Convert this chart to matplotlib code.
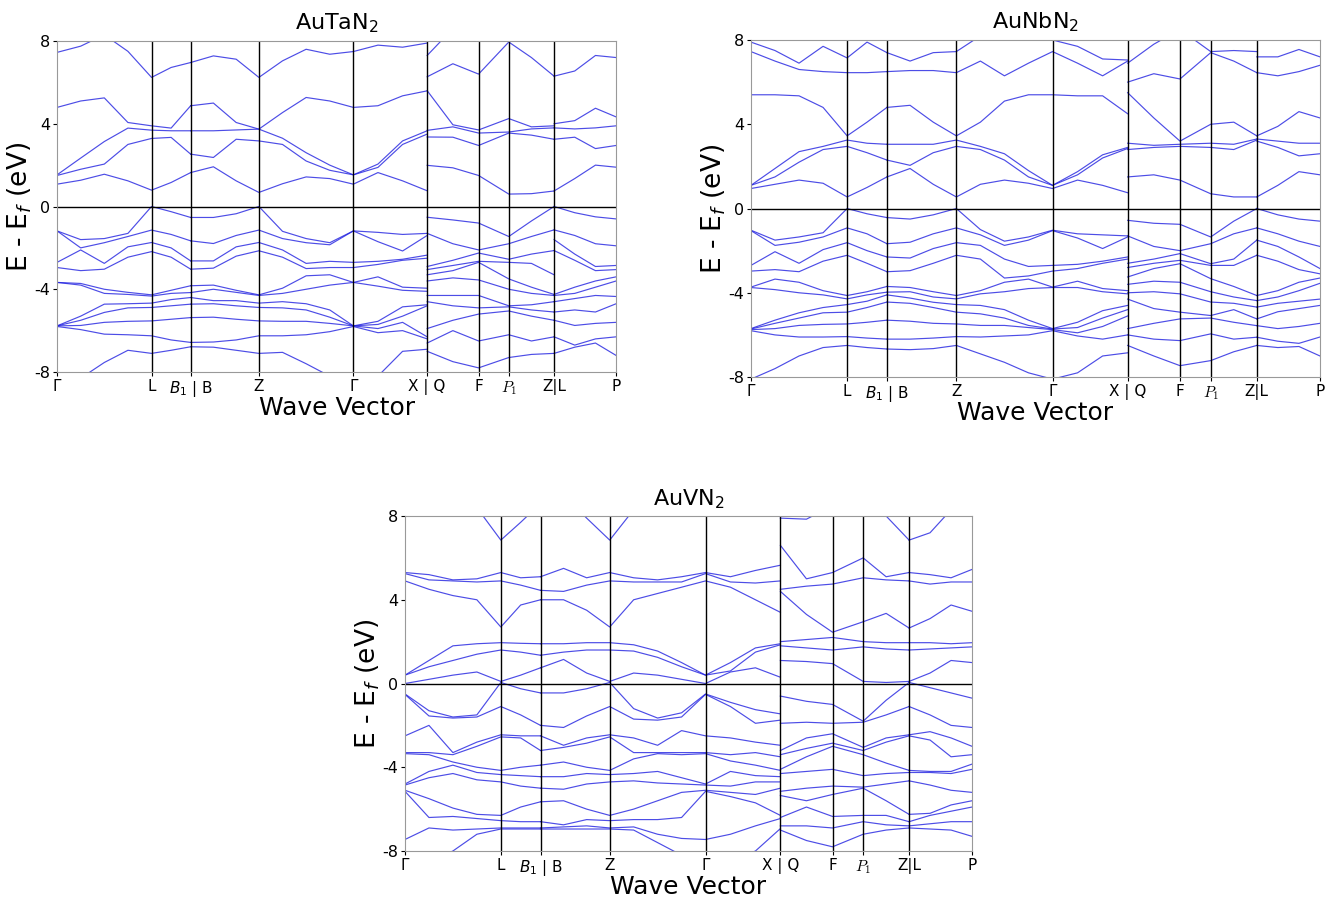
import numpy as np
import matplotlib.pyplot as plt

plt.rcParams['axes.unicode_minus'] = False
plt.rcParams['font.family'] = ['DejaVu Sans']

# high-symmetry points along the path (fraction of path length)
kpath = [0.0, 0.169, 0.239, 0.361, 0.530, 0.662, 0.754, 0.808, 0.889, 1.0]
klabels = ['Γ', 'L', r'$B_1$ | B', 'Z', 'Γ', 'X | Q', 'F', r'$P_1$', 'Z|L', 'P']
yticks = [-8, -4, 0, 4, 8]

# sample points of each continuous piece, given in units of path nodes
piece_A = [0, 0.25, 0.5, 0.75, 1, 1.5, 2]                              # Γ-L-B1
piece_B = [2, 2.333, 2.667, 3, 3.25, 3.5, 3.75, 4, 4.333, 4.667, 5]    # B-Z-Γ-X
piece_C = [5, 5.5, 6, 7, 7.5, 8]                                       # Q-F-P1-Z
piece_D = [8, 8.333, 8.667, 9]                                         # L-P

# ---------------- AuTaN2 ----------------
tan_A = [
    [7.45, 7.75, 8.3, 7.5, 6.24, 6.72, 6.96],
    [4.79, 5.1, 5.25, 4.06, 3.9, 3.79, 4.87],
    [1.53, 2.34, 3.14, 3.79, 3.69, 3.66, 3.66],
    [1.5, 1.8, 2.05, 3.0, 3.29, 3.34, 2.53],
    [1.08, 1.27, 1.56, 1.24, 0.79, 1.16, 1.64],
    [-1.18, -1.6, -1.55, -1.3, 0.0, -0.25, -0.53],
    [-1.18, -2.0, -1.75, -1.45, -1.14, -1.35, -1.66],
    [-2.7, -2.1, -2.75, -1.95, -1.74, -2.0, -2.63],
    [-2.95, -3.1, -3.03, -2.45, -2.18, -2.45, -3.03],
    [-3.67, -3.72, -4.0, -4.15, -4.27, -4.05, -3.83],
    [-3.67, -3.8, -4.2, -4.25, -4.33, -4.2, -4.16],
    [-5.77, -5.3, -4.72, -4.7, -4.67, -4.5, -4.4],
    [-5.77, -5.5, -5.12, -4.9, -4.88, -4.8, -4.72],
    [-5.77, -5.75, -5.6, -5.55, -5.53, -5.45, -5.37],
    [-5.8, -5.95, -6.17, -6.2, -6.25, -6.45, -6.57],
    [-9.0, -8.3, -7.54, -6.95, -7.1, -6.95, -6.78],
]
tan_B = [
    [6.96, 7.28, 7.12, 6.24, 7.04, 7.6, 7.36, 7.49, 7.8, 7.7, 7.9],
    [4.87, 5.0, 4.06, 3.74, 4.54, 5.27, 5.1, 4.79, 4.87, 5.35, 5.59],
    [3.66, 3.66, 3.7, 3.74, 3.3, 2.6, 2.0, 1.53, 2.05, 3.17, 3.66],
    [2.53, 2.37, 3.25, 3.17, 3.0, 2.2, 1.75, 1.53, 1.89, 3.0, 3.5],
    [1.64, 1.92, 1.24, 0.68, 1.1, 1.43, 1.35, 1.08, 1.64, 1.24, 0.76],
    [-0.53, -0.53, -0.35, 0.0, -1.2, -1.55, -1.75, -1.18, -1.25, -1.35, -1.3],
    [-1.66, -1.79, -1.4, -1.14, -1.55, -1.75, -1.85, -1.18, -1.7, -2.15, -1.4],
    [-2.63, -2.63, -1.95, -1.74, -2.1, -2.75, -2.65, -2.7, -2.65, -2.55, -2.35],
    [-3.03, -2.98, -2.4, -2.14, -2.45, -3.0, -2.95, -2.95, -2.8, -2.6, -2.5],
    [-3.83, -3.8, -4.05, -4.27, -3.95, -3.35, -3.3, -3.67, -3.4, -3.9, -3.95],
    [-4.16, -4.0, -4.15, -4.3, -4.2, -4.0, -3.8, -3.67, -3.85, -4.05, -4.1],
    [-4.4, -4.55, -4.55, -4.67, -4.6, -4.7, -5.0, -5.77, -5.55, -4.85, -4.75],
    [-4.72, -4.7, -4.8, -4.88, -4.9, -5.0, -5.35, -5.77, -5.7, -5.3, -4.8],
    [-5.37, -5.35, -5.45, -5.53, -5.55, -5.55, -5.65, -5.77, -5.9, -5.6, -6.3],
    [-6.57, -6.55, -6.45, -6.25, -6.25, -6.2, -6.05, -5.8, -6.1, -6.0, -6.4],
    [-6.78, -6.8, -6.95, -7.1, -7.05, -7.6, -8.2, -9.0, -8.2, -7.0, -6.9],
]
tan_C = [
    [7.3, 8.6, 8.6, 8.6, 8.6, 8.6],
    [6.27, 6.9, 6.4, 7.95, 7.2, 6.3],
    [5.6, 3.95, 3.7, 4.25, 3.85, 3.9],
    [3.68, 3.85, 3.55, 3.6, 3.75, 3.8],
    [3.36, 3.35, 2.95, 3.55, 3.45, 3.25],
    [1.99, 1.87, 1.5, 0.6, 0.62, 0.75],
    [-0.52, -0.65, -0.8, -1.45, -0.7, 0.0],
    [-1.3, -1.8, -2.1, -1.8, -1.45, -1.13],
    [-2.9, -2.6, -2.25, -2.55, -2.3, -2.13],
    [-3.05, -2.85, -2.65, -2.7, -2.75, -3.3],
    [-3.3, -3.1, -2.7, -3.5, -3.9, -4.25],
    [-3.6, -3.45, -3.55, -4.0, -4.2, -4.3],
    [-4.3, -4.3, -4.3, -4.8, -4.75, -4.6],
    [-4.6, -4.8, -4.9, -4.85, -5.0, -5.1],
    [-5.9, -5.5, -5.2, -5.05, -5.3, -5.5],
    [-6.6, -6.0, -6.5, -6.2, -6.5, -6.3],
    [-7.0, -7.5, -7.8, -7.3, -7.15, -7.1],
]
tan_D = [
    [6.3, 6.55, 7.3, 7.2],
    [4.0, 4.15, 4.75, 4.33],
    [3.8, 3.75, 3.8, 3.9],
    [3.25, 3.35, 2.8, 2.95],
    [0.75, 1.35, 2.0, 1.9],
    [0.0, -0.3, -0.5, -0.6],
    [-1.13, -1.4, -1.8, -1.9],
    [-1.6, -2.3, -2.9, -2.85],
    [-2.13, -2.6, -3.1, -3.05],
    [-4.25, -3.9, -3.6, -3.4],
    [-4.3, -4.2, -3.9, -3.6],
    [-4.6, -4.45, -4.3, -4.35],
    [-5.1, -5.0, -5.1, -4.7],
    [-5.5, -5.75, -5.65, -5.6],
    [-6.3, -6.7, -6.4, -6.3],
    [-7.1, -6.8, -6.6, -7.2],
]

# ---------------- AuNbN2 ----------------
nb_A = [
    [7.9, 7.5, 6.9, 7.7, 7.15, 7.9, 7.4],
    [7.45, 7.0, 6.6, 6.5, 6.45, 6.45, 6.5],
    [5.4, 5.4, 5.35, 4.8, 3.45, 4.1, 4.8],
    [1.1, 1.9, 2.7, 2.95, 3.25, 3.1, 3.05],
    [1.1, 1.5, 2.2, 2.8, 2.95, 2.65, 2.3],
    [0.95, 1.15, 1.35, 1.2, 0.55, 1.0, 1.5],
    [-1.03, -1.5, -1.35, -1.15, 0.0, -0.25, -0.43],
    [-1.05, -1.75, -1.6, -1.35, -0.92, -1.2, -1.67],
    [-2.7, -2.05, -2.6, -1.95, -1.62, -2.0, -2.3],
    [-2.97, -2.9, -3.0, -2.5, -2.22, -2.6, -3.0],
    [-3.73, -3.35, -3.5, -3.9, -4.13, -3.95, -3.7],
    [-3.75, -3.85, -4.0, -4.1, -4.29, -4.1, -3.97],
    [-5.7, -5.3, -4.95, -4.7, -4.56, -4.4, -4.1],
    [-5.72, -5.45, -5.2, -4.95, -4.92, -4.7, -4.44],
    [-5.75, -5.7, -5.55, -5.5, -5.48, -5.4, -5.3],
    [-5.8, -6.0, -6.1, -6.1, -6.08, -6.15, -6.2],
    [-8.1, -7.6, -7.0, -6.6, -6.5, -6.6, -6.67],
]
nb_B = [
    [7.4, 7.0, 7.4, 7.45, 8.2, 8.5, 8.5, 8.0, 7.7, 7.1, 7.05],
    [6.5, 6.55, 6.55, 6.45, 7.0, 6.3, 6.9, 7.45, 6.9, 6.3, 7.0],
    [4.8, 4.9, 4.1, 3.45, 4.1, 5.1, 5.4, 5.4, 5.35, 5.35, 4.5],
    [3.05, 3.05, 3.05, 3.25, 2.95, 2.6, 1.8, 1.1, 1.75, 2.55, 2.9],
    [2.3, 2.05, 2.65, 2.95, 2.8, 2.3, 1.5, 1.1, 1.6, 2.4, 2.85],
    [1.5, 1.9, 1.15, 0.55, 1.15, 1.35, 1.2, 0.95, 1.35, 1.1, 0.75],
    [-0.43, -0.5, -0.3, 0.0, -1.0, -1.55, -1.35, -1.03, -1.2, -1.25, -1.3],
    [-1.67, -1.6, -1.2, -0.92, -1.25, -1.75, -1.5, -1.05, -1.4, -1.9, -1.35],
    [-2.3, -2.35, -1.9, -1.62, -1.75, -2.4, -2.75, -2.7, -2.65, -2.5, -2.3],
    [-3.0, -2.95, -2.6, -2.22, -2.4, -3.3, -3.2, -2.97, -2.85, -2.6, -2.4],
    [-3.7, -3.75, -3.95, -4.13, -3.9, -3.5, -3.35, -3.73, -3.45, -3.8, -3.9],
    [-3.97, -3.95, -4.2, -4.29, -4.05, -3.95, -3.8, -3.75, -3.75, -3.95, -4.05],
    [-4.1, -4.25, -4.45, -4.56, -4.6, -4.8, -5.3, -5.7, -5.4, -4.85, -4.6],
    [-4.44, -4.5, -4.7, -4.92, -5.0, -5.2, -5.55, -5.72, -5.65, -5.2, -4.8],
    [-5.3, -5.35, -5.45, -5.48, -5.55, -5.55, -5.65, -5.75, -5.9, -5.6, -5.1],
    [-6.2, -6.2, -6.15, -6.08, -6.1, -6.05, -6.0, -5.8, -6.05, -6.2, -6.0],
    [-6.67, -6.7, -6.65, -6.5, -6.9, -7.3, -7.8, -8.1, -7.8, -7.0, -6.85],
]
nb_C = [
    [6.9, 7.8, 8.5, 7.45, 7.5, 7.45],
    [6.0, 6.4, 6.15, 7.4, 7.0, 6.45],
    [5.5, 4.3, 3.2, 4.0, 4.1, 3.45],
    [3.1, 3.0, 3.05, 3.1, 3.05, 3.3],
    [2.8, 2.9, 2.95, 2.9, 2.8, 3.25],
    [1.5, 1.6, 1.35, 0.7, 0.55, 0.55],
    [-0.56, -0.7, -0.75, -1.35, -0.6, 0.0],
    [-1.3, -1.8, -2.0, -1.67, -1.2, -0.92],
    [-2.6, -2.4, -2.14, -2.62, -2.4, -1.5],
    [-2.8, -2.6, -2.46, -2.7, -2.7, -2.22],
    [-3.25, -2.85, -2.62, -3.33, -3.7, -4.13],
    [-3.6, -3.45, -3.5, -3.95, -4.2, -4.37],
    [-4.0, -3.95, -4.05, -4.44, -4.5, -4.68],
    [-4.3, -4.75, -4.92, -5.08, -4.8, -5.24],
    [-5.7, -5.45, -5.24, -5.2, -5.4, -5.56],
    [-6.0, -6.2, -6.27, -5.95, -6.2, -6.11],
    [-6.5, -7.0, -7.46, -7.22, -6.8, -6.5],
]
nb_D = [
    [7.2, 7.2, 7.55, 7.2],
    [6.45, 6.3, 6.5, 6.8],
    [3.45, 3.9, 4.6, 4.3],
    [3.3, 3.2, 3.1, 3.1],
    [3.2, 2.9, 2.5, 2.6],
    [0.55, 1.1, 1.75, 1.6],
    [0.0, -0.3, -0.5, -0.6],
    [-0.92, -1.2, -1.55, -1.8],
    [-1.5, -1.8, -2.3, -2.85],
    [-2.22, -2.5, -2.9, -3.1],
    [-4.13, -3.9, -3.5, -3.3],
    [-4.37, -4.2, -3.9, -3.55],
    [-4.68, -4.5, -4.4, -4.3],
    [-5.24, -4.9, -4.75, -4.6],
    [-5.56, -5.7, -5.6, -5.45],
    [-6.11, -6.3, -6.4, -6.1],
    [-6.5, -6.6, -6.55, -7.0],
]

# ---------------- AuVN2 ----------------
v_A = [
    [9.0, 9.0, 9.0, 8.4, 6.85, 7.7, 8.6],
    [5.3, 5.2, 4.95, 5.0, 5.3, 5.05, 5.1],
    [5.25, 4.95, 4.9, 4.85, 4.9, 4.7, 4.45],
    [4.9, 4.5, 4.2, 4.0, 2.7, 3.75, 4.0],
    [0.4, 1.1, 1.8, 1.9, 1.95, 1.92, 1.9],
    [0.4, 0.8, 1.1, 1.4, 1.6, 1.5, 1.35],
    [0.0, 0.2, 0.4, 0.55, 0.1, 0.4, 0.75],
    [-0.5, -1.3, -1.6, -1.5, 0.05, -0.25, -0.45],
    [-0.52, -1.55, -1.65, -1.6, -1.1, -1.5, -2.0],
    [-2.5, -2.0, -3.3, -2.8, -2.45, -2.5, -2.5],
    [-3.3, -3.3, -3.4, -3.0, -2.55, -2.6, -3.2],
    [-3.35, -3.4, -3.75, -4.0, -4.15, -4.0, -3.9],
    [-4.8, -4.2, -3.9, -4.25, -4.35, -4.4, -4.45],
    [-4.85, -4.5, -4.3, -4.6, -4.7, -4.9, -5.0],
    [-5.1, -5.5, -5.95, -6.25, -6.3, -5.9, -5.65],
    [-5.15, -6.4, -6.35, -6.45, -6.55, -6.6, -6.6],
    [-7.45, -6.9, -7.0, -6.95, -6.9, -6.9, -6.9],
    [-9.0, -8.5, -8.0, -7.2, -6.95, -6.95, -6.95],
]
v_B = [
    [8.6, 9.0, 7.9, 6.85, 8.3, 9.0, 9.0, 9.0, 9.0, 9.0, 9.0],
    [5.1, 5.5, 5.05, 5.3, 5.05, 4.95, 5.1, 5.3, 5.1, 5.4, 5.65],
    [4.45, 4.4, 4.7, 4.9, 4.85, 4.85, 4.85, 5.25, 4.85, 4.8, 4.9],
    [4.0, 4.0, 3.5, 2.7, 4.0, 4.3, 4.6, 4.9, 4.6, 4.0, 3.4],
    [1.9, 1.9, 1.95, 1.95, 1.85, 1.55, 1.0, 0.4, 1.0, 1.7, 1.9],
    [1.35, 1.5, 1.6, 1.6, 1.55, 1.25, 0.8, 0.4, 0.6, 1.5, 1.85],
    [0.75, 1.15, 0.5, 0.1, 0.5, 0.4, 0.2, 0.0, 0.55, 0.75, 0.3],
    [-0.45, -0.45, -0.25, 0.05, -1.2, -1.65, -1.4, -0.5, -0.9, -1.25, -1.45],
    [-2.0, -2.1, -1.55, -1.1, -1.7, -1.75, -1.6, -0.52, -1.1, -1.9, -1.75],
    [-2.5, -2.95, -2.6, -2.45, -2.6, -2.95, -2.25, -2.5, -2.6, -2.8, -2.95],
    [-3.2, -3.05, -2.85, -2.55, -3.3, -3.3, -3.3, -3.3, -3.4, -3.3, -3.5],
    [-3.9, -3.75, -4.0, -4.15, -3.6, -3.35, -3.4, -3.35, -3.7, -3.9, -4.15],
    [-4.45, -4.45, -4.3, -4.35, -4.3, -4.2, -4.5, -4.8, -4.2, -4.4, -4.45],
    [-5.0, -5.05, -4.8, -4.7, -4.65, -4.75, -4.8, -4.85, -4.9, -4.7, -4.7],
    [-5.65, -5.6, -6.0, -6.3, -6.0, -5.6, -5.2, -5.1, -5.2, -5.3, -5.0],
    [-6.6, -6.75, -6.5, -6.55, -6.5, -6.5, -6.4, -5.15, -5.4, -5.7, -6.3],
    [-6.9, -6.85, -6.8, -6.9, -6.85, -7.2, -7.4, -7.45, -7.2, -6.8, -6.45],
    [-6.95, -6.95, -6.95, -6.95, -7.0, -7.6, -8.2, -9.0, -8.5, -8.0, -6.93],
]
v_C = [
    [7.9, 7.85, 8.5, 8.5, 8.0, 6.85],
    [6.6, 5.0, 5.3, 6.0, 5.1, 5.3],
    [4.5, 4.65, 4.75, 5.05, 4.95, 4.9],
    [4.4, 3.3, 2.45, 2.95, 3.35, 2.65],
    [2.0, 2.1, 2.2, 2.0, 1.95, 1.95],
    [1.8, 1.7, 1.6, 1.75, 1.65, 1.6],
    [1.1, 1.05, 0.95, 0.1, 0.05, 0.1],
    [-0.6, -0.85, -1.0, -1.8, -0.8, 0.05],
    [-1.9, -1.85, -1.9, -1.85, -1.5, -1.1],
    [-3.2, -2.6, -2.4, -3.05, -2.6, -2.45],
    [-3.4, -3.1, -2.85, -3.2, -2.8, -2.5],
    [-4.1, -3.5, -3.0, -3.4, -3.8, -4.15],
    [-4.3, -4.2, -4.1, -4.4, -4.3, -4.25],
    [-5.15, -5.0, -4.9, -4.95, -4.8, -4.65],
    [-5.35, -5.6, -5.3, -5.0, -5.6, -6.25],
    [-6.4, -5.9, -6.35, -6.3, -6.3, -6.6],
    [-6.8, -6.8, -6.9, -6.6, -6.75, -6.8],
    [-7.0, -7.5, -7.8, -7.2, -7.0, -6.9],
]
v_D = [
    [6.85, 7.2, 8.3, 9.0],
    [5.3, 5.2, 5.05, 5.45],
    [4.9, 4.75, 4.85, 4.85],
    [2.65, 3.1, 3.75, 3.45],
    [1.95, 1.95, 1.9, 1.95],
    [1.6, 1.65, 1.7, 1.75],
    [0.1, 0.5, 1.1, 1.0],
    [0.05, -0.2, -0.45, -0.7],
    [-1.1, -1.5, -2.0, -2.1],
    [-2.45, -2.3, -2.6, -3.0],
    [-2.5, -2.7, -3.5, -3.4],
    [-4.15, -4.2, -4.2, -3.85],
    [-4.25, -4.25, -4.3, -4.1],
    [-4.65, -4.85, -5.1, -5.2],
    [-6.25, -6.2, -5.8, -5.6],
    [-6.6, -6.3, -6.1, -5.9],
    [-6.8, -6.7, -6.6, -6.6],
    [-6.9, -6.95, -7.0, -7.3],
]


def plot_bands(ax, pieces, title):
    node_idx = np.arange(len(kpath))
    for nodes, bands in pieces:
        k = np.interp(nodes, node_idx, kpath)
        for b in bands:
            ax.plot(k, b, color='#2020e0', lw=0.85, alpha=0.8)

    for kk in kpath[1:-1]:
        ax.axvline(kk, color='black', lw=1.0)
    ax.axhline(0, color='black', lw=1.0)

    ax.set_xlim(0, 1)
    ax.set_ylim(-8, 8)
    ax.set_xticks(kpath)
    labels = ax.set_xticklabels(klabels, fontsize=11)
    labels[7].set_math_fontfamily('cm')
    ax.set_yticks(yticks)
    ax.set_yticklabels([str(t) for t in yticks], fontsize=11.5)
    ax.tick_params(length=3, pad=2)
    for s in ax.spines.values():
        s.set_color('#999999')

    ax.set_title(title, fontsize=16, pad=8)
    ax.set_xlabel('Wave Vector', fontsize=18, labelpad=-2)
    ax.set_ylabel(r'E - E$_f$ (eV)', fontsize=19, labelpad=0)


fig = plt.figure(figsize=(13.27, 8.99), dpi=100)
ax1 = fig.add_axes([0.0430, 0.5862, 0.4213, 0.3682])
ax2 = fig.add_axes([0.5659, 0.5806, 0.4288, 0.3749])
ax3 = fig.add_axes([0.3052, 0.0534, 0.4273, 0.3726])

plot_bands(ax1, [(piece_A, tan_A), (piece_B, tan_B), (piece_C, tan_C), (piece_D, tan_D)], r'AuTaN$_2$')
plot_bands(ax2, [(piece_A, nb_A), (piece_B, nb_B), (piece_C, nb_C), (piece_D, nb_D)], r'AuNbN$_2$')
plot_bands(ax3, [(piece_A, v_A), (piece_B, v_B), (piece_C, v_C), (piece_D, v_D)], r'AuVN$_2$')

fig.savefig('out.png', dpi=100)
